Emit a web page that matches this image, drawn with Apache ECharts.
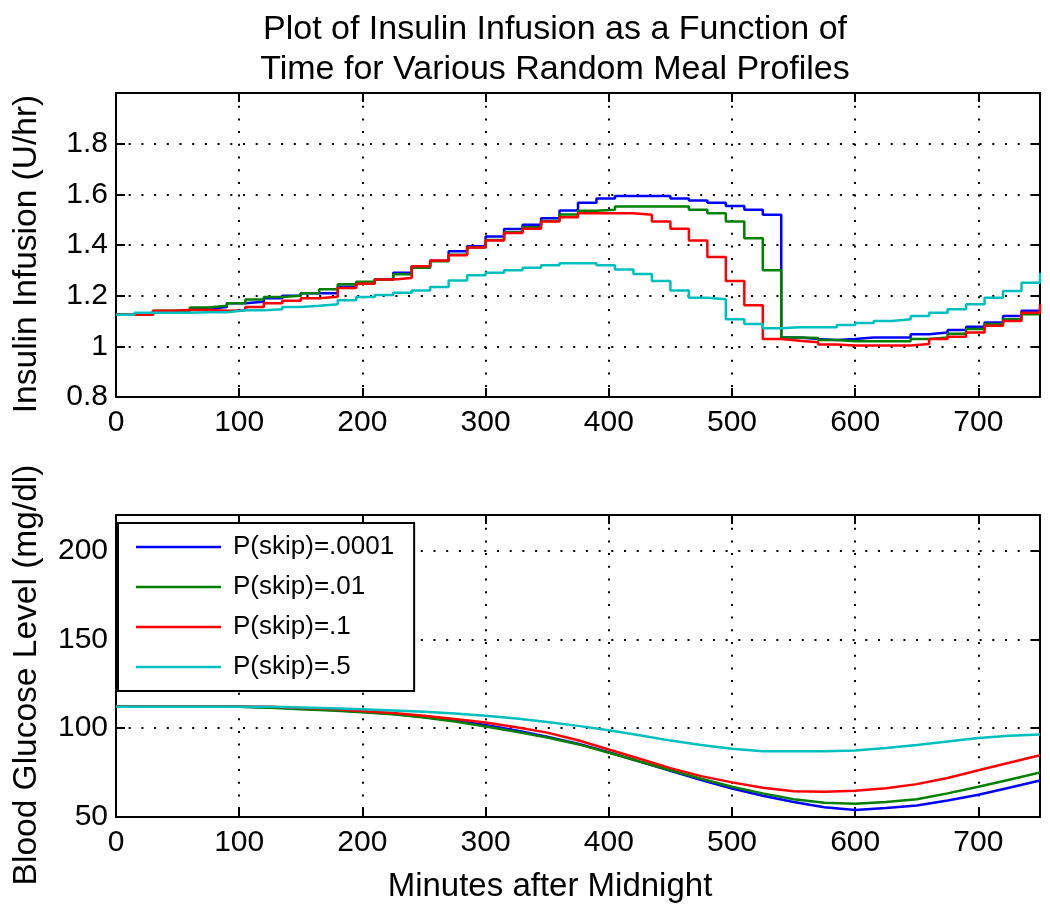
<!DOCTYPE html>
<html>
<head>
<meta charset="utf-8">
<script src="https://cdn.jsdelivr.net/npm/echarts@6/dist/echarts.min.js"></script>
<style>html,body{margin:0;padding:0;background:#fff}#chart{width:1050px;height:913px}</style>
</head>
<body>
<div id="chart"></div>
<script>
// ---- data ----
var seriesNames = ['P(skip)=.0001', 'P(skip)=.01', 'P(skip)=.1', 'P(skip)=.5'];
var seriesColors = ['#0000ff', '#008000', '#ff0000', '#00bfbf'];

// insulin step times (minutes)
var insulinTimes = [0,15,30,45,60,75,90,105,120,135,150,165,180,195,210,225,240,255,270,285,300,315,330,345,360,375,390,405,420,435,450,465,480,495,510,525,540,555,570,585,600,615,630,645,660,675,690,705,720,735,750];
var insulinBlue = [1.125,1.125,1.135,1.14,1.148,1.155,1.17,1.176,1.19,1.2,1.21,1.21,1.235,1.25,1.264,1.29,1.316,1.338,1.375,1.395,1.434,1.463,1.48,1.506,1.536,1.567,1.584,1.593,1.593,1.593,1.584,1.576,1.567,1.554,1.539,1.519,1.035,1.029,1.025,1.029,1.035,1.035,1.035,1.048,1.055,1.064,1.077,1.094,1.12,1.14,1.14];
var insulinGreen = [1.125,1.125,1.14,1.14,1.153,1.16,1.17,1.185,1.195,1.2,1.21,1.225,1.245,1.255,1.264,1.285,1.31,1.336,1.362,1.39,1.42,1.45,1.47,1.495,1.52,1.535,1.539,1.552,1.552,1.552,1.552,1.539,1.525,1.493,1.427,1.30,1.035,1.033,1.025,1.02,1.02,1.02,1.02,1.029,1.035,1.05,1.068,1.088,1.107,1.127,1.127];
var insulinRed = [1.125,1.125,1.14,1.143,1.143,1.14,1.142,1.155,1.17,1.18,1.19,1.196,1.23,1.247,1.264,1.27,1.316,1.339,1.36,1.39,1.418,1.447,1.464,1.493,1.51,1.525,1.525,1.525,1.519,1.493,1.464,1.418,1.353,1.258,1.162,1.029,1.022,1.016,1.007,1.003,1.003,1.003,1.003,1.009,1.029,1.038,1.055,1.081,1.10,1.133,1.166];
var insulinCyan = [1.125,1.133,1.133,1.133,1.135,1.135,1.142,1.142,1.146,1.155,1.16,1.166,1.182,1.195,1.203,1.212,1.22,1.234,1.26,1.281,1.29,1.30,1.31,1.32,1.328,1.328,1.32,1.303,1.286,1.258,1.22,1.192,1.186,1.107,1.088,1.071,1.075,1.075,1.075,1.084,1.092,1.10,1.107,1.12,1.133,1.146,1.166,1.192,1.218,1.251,1.29];

// glucose sample times (minutes)
var glucoseTimes = [0,25,50,75,100,125,150,175,200,225,250,275,300,325,350,375,400,425,450,475,500,525,550,575,600,625,650,675,700,725,750];
var glucoseBlue = [112,112,112,112,112,111.8,111,110.2,109.3,108,106.3,104.3,101.8,98.7,95.2,91.2,86.5,81.2,76,70.8,66,62,58.5,55.5,54,55,56.5,59.3,62.5,66.5,70.5];
var glucoseGreen = [112,112,112,112,112,111.5,110.7,110,109,107.8,106,103.8,101,98,94.8,91,86.2,81.2,76.3,71.5,67,63.3,60,58,57.5,58.5,60,63.3,67,71,75];
var glucoseRed = [112,112,112,112,112,112,111.3,110.8,109.6,108.5,107,105.2,103.2,100.5,97.5,93.2,88,82.8,77.5,73,69.5,66.5,64.5,64.2,64.8,66.2,68.5,72,76.3,80.5,84.8];
var glucoseCyan = [112,112,112,112,112,112,111.6,111.2,110.6,110,109.2,108.2,107,105.5,103.5,101.3,98.8,96,93,90.5,88.4,87,87,87,87.5,88.8,90.5,92.5,94.5,95.8,96.5];

// axes
var xMin = 0, xMax = 750, xInterval = 100;
var insulinMin = 0.8, insulinMax = 2.0, insulinInterval = 0.2;
var glucoseMin = 50, glucoseMax = 220, glucoseInterval = 50;

var titleText = 'Plot of Insulin Infusion as a Function of\nTime for Various Random Meal Profiles';
var xName = 'Minutes after Midnight';
var insulinName = 'Insulin Infusion (U/hr)';
var glucoseName = 'Blood Glucose Level (mg/dl)';

// ---- build ----
var FONT = 'Liberation Sans, Arial, Helvetica, sans-serif';
function zip(xs, ys) { return xs.map(function (x, i) { return [x, ys[i]]; }); }

var dotted = { show: true, lineStyle: { color: '#000', width: 2, type: [2, 10.7] } };
var tick = { show: true, inside: true, length: 9, lineStyle: { color: '#000', width: 2 } };
var line = { show: true, onZero: false, lineStyle: { color: '#000', width: 2 } };

function xAxisMain(grid, withName) {
  var a = {
    type: 'value', gridIndex: grid, position: 'bottom', min: xMin, max: xMax, interval: xInterval,
    axisLine: line, axisTick: tick, splitLine: dotted,
    axisLabel: { color: '#000', fontSize: 30, fontFamily: FONT, margin: 11, showMaxLabel: false }
  };
  if (withName) {
    a.name = xName; a.nameLocation = 'middle'; a.nameGap = 53;
    a.nameTextStyle = { color: '#000', fontSize: 33, fontFamily: FONT, padding: [0, 56, 0, 0] };
  }
  return a;
}
function xAxisTop(grid) {
  return { type: 'value', gridIndex: grid, position: 'top', min: xMin, max: xMax, interval: xInterval,
    axisLine: line, axisTick: tick, splitLine: { show: false }, axisLabel: { show: false } };
}
function yAxisMain(grid, mn, mx, iv, name, fmt) {
  return {
    type: 'value', gridIndex: grid, position: 'left', min: mn, max: mx, interval: iv,
    axisLine: line, axisTick: tick, splitLine: dotted,
    axisLabel: { color: '#000', fontSize: 30, fontFamily: FONT, margin: 8, showMaxLabel: false, formatter: fmt },
    name: name, nameLocation: 'middle', nameGap: 72,
    nameTextStyle: { color: '#000', fontSize: 33.5, fontFamily: FONT, padding: [0, 18, 0, 0] }
  };
}
function yAxisRight(grid, mn, mx, iv) {
  return { type: 'value', gridIndex: grid, position: 'right', min: mn, max: mx, interval: iv,
    axisLine: line, axisTick: tick, splitLine: { show: false }, axisLabel: { show: false } };
}

var insulinData = [insulinBlue, insulinGreen, insulinRed, insulinCyan];
var glucoseData = [glucoseBlue, glucoseGreen, glucoseRed, glucoseCyan];
var series = [];
seriesNames.forEach(function (n, i) {
  series.push({ name: n, type: 'line', step: 'end', xAxisIndex: 0, yAxisIndex: 0,
    data: zip(insulinTimes, insulinData[i]), showSymbol: false, symbol: 'none',
    lineStyle: { color: seriesColors[i], width: 2.5 }, itemStyle: { color: seriesColors[i] } });
});
seriesNames.forEach(function (n, i) {
  series.push({ name: n, type: 'line', xAxisIndex: 2, yAxisIndex: 2,
    data: zip(glucoseTimes, glucoseData[i]), showSymbol: false, symbol: 'none',
    lineStyle: { color: seriesColors[i], width: 2.5 }, itemStyle: { color: seriesColors[i] } });
});

var option = {
  animation: false,
  backgroundColor: '#fff',
  title: {
    text: titleText, left: 550, top: 5, textAlign: 'center',
    textStyle: { color: '#000', fontSize: 34, fontWeight: 'normal', fontFamily: FONT, lineHeight: 40 }
  },
  legend: {
    data: seriesNames, orient: 'vertical', left: 118, top: 523,
    icon: 'rect', itemWidth: 85, itemHeight: 2.5, itemGap: 10,
    padding: [9, 20, 9, 18],
    backgroundColor: '#fff', borderColor: '#000', borderWidth: 2,
    textStyle: { color: '#000', fontSize: 26, fontFamily: FONT, lineHeight: 30, padding: [0, 0, 0, 7] }
  },
  grid: [
    { left: 116, top: 93, width: 924, height: 304, show: false },
    { left: 116, top: 515, width: 924, height: 302, show: false }
  ],
  xAxis: [xAxisMain(0, false), xAxisTop(0), xAxisMain(1, true), xAxisTop(1)],
  yAxis: [
    yAxisMain(0, insulinMin, insulinMax, insulinInterval, insulinName, function (v) { return String(Math.round(v * 10) / 10); }),
    yAxisRight(0, insulinMin, insulinMax, insulinInterval),
    yAxisMain(1, glucoseMin, glucoseMax, glucoseInterval, glucoseName, function (v) { return String(v); }),
    yAxisRight(1, glucoseMin, glucoseMax, glucoseInterval)
  ],
  series: series
};
var chart = echarts.init(document.getElementById('chart'), null, { renderer: 'canvas' });
chart.setOption(option);
</script>
</body>
</html>
